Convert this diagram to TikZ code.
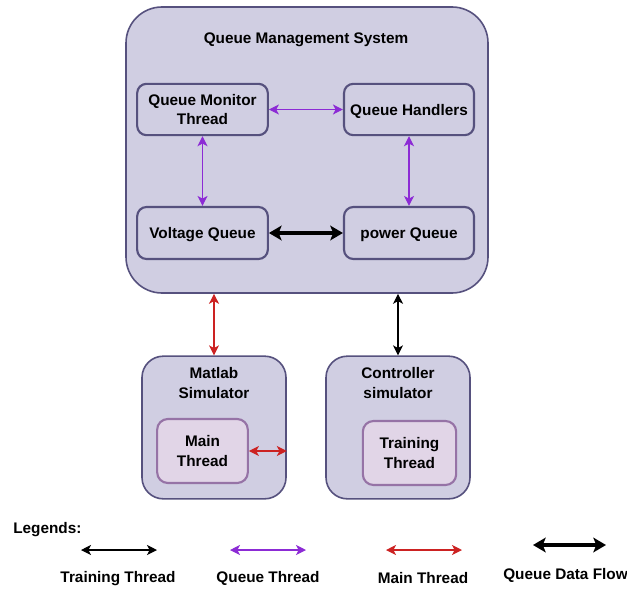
\documentclass[tikz,border=0pt]{standalone}
\usepackage{fontspec}
\setmainfont{Liberation Sans}
\usetikzlibrary{arrows.meta}
\definecolor{boxfill}{HTML}{D0CEE2}
\definecolor{boxline}{HTML}{56517E}
\definecolor{thrfill}{HTML}{E1D5E7}
\definecolor{thrline}{HTML}{9673A6}
\definecolor{qpurple}{HTML}{8C2BD5}
\definecolor{mred}{HTML}{CC2222}
\tikzset{
  x=0.75pt, y=-0.75pt,
  every node/.style={font=\fontsize{11.5}{14.8}\selectfont\bfseries, align=center, inner sep=0pt},
  sysbox/.style={draw=boxline, fill=boxfill, line width=1.2pt},
  qbox/.style={draw=boxline, fill=boxfill, line width=1.6pt, rounded corners=7pt, text depth=0pt},
  thrbox/.style={draw=thrline, fill=thrfill, line width=1.6pt, rounded corners=8pt, text depth=0pt},
  smalltip/.tip={Stealth[length=7.5pt,width=7.5pt,inset=2pt]},
  bigtip/.tip={Stealth[length=9.5pt,width=11pt,inset=2.2pt]},
  qflow/.style={smalltip-smalltip, qpurple, line width=0.9pt},
  mflow/.style={smalltip-smalltip, mred, line width=0.9pt},
  tflow/.style={smalltip-smalltip, black, line width=0.9pt},
  dflow/.style={bigtip-bigtip, black, line width=3pt},
}
\begin{document}
\begin{tikzpicture}
\useasboundingbox (0,0) rectangle (627,588);
\clip (0,0) rectangle (627,588);

% Queue management system
\node[sysbox, rounded corners=27pt, minimum width=271.5pt, minimum height=214.5pt] (qms) at (307,150) {};
\node (qmstitle) at (306,40) {Queue Management System};

\node[qbox, minimum width=98pt, minimum height=38.5pt] (qmt) at (202.5,109.5) {Queue Monitor\\Thread};
\node[qbox, minimum width=97.5pt, minimum height=38.5pt] (qh) at (409,109.5) {Queue Handlers};
\node[qbox, minimum width=98pt, minimum height=39pt] (vq) at (202.5,233) {Voltage Queue};
\node[qbox, minimum width=97.5pt, minimum height=39pt] (pq) at (409,233) {power Queue};

\draw[qflow] (qmt.east) -- (qh.west);
\draw[qflow] (qmt.south) -- (vq.north);
\draw[qflow] (qh.south) -- (pq.north);
\draw[dflow] (vq.east) -- (pq.west);

% Simulators
\node[sysbox, rounded corners=16pt, minimum width=108pt, minimum height=107pt] (matlab) at (214,427.5) {};
\node (matlabtitle) at (214,383) {Matlab\\Simulator};
\node[thrbox, minimum width=68pt, minimum height=48pt] (main) at (202.5,451) {Main\\Thread};
\draw[mflow] (main.east) -- (main.east -| matlab.east);

\node[sysbox, rounded corners=16pt, minimum width=108pt, minimum height=107pt] (ctrl) at (398,427.5) {};
\node (ctrltitle) at (398,383) {Controller\\simulator};
\node[thrbox, minimum width=70pt, minimum height=48pt] (train) at (409.5,453) {Training\\Thread};

\draw[mflow] (matlab.north) -- (matlab.north |- qms.south);
\draw[tflow] (ctrl.north) -- (ctrl.north |- qms.south);

% Legend
\node[anchor=west] (legtitle) at (13,530) {Legends:};
\coordinate (ta) at (81,550);  \coordinate (tb) at (157,550);
\coordinate (qa) at (230,550); \coordinate (qb) at (306,550);
\coordinate (ma) at (386,550); \coordinate (mb) at (462,550);
\coordinate (da) at (533,545); \coordinate (db) at (606,545);
\draw[tflow] (ta) -- (tb);
\draw[qflow] (qa) -- (qb);
\draw[mflow] (ma) -- (mb);
\draw[dflow] (da) -- (db);
\node (tlab) at (118,578.5) {Training Thread};
\node (qlab) at (268,578.5) {Queue Thread};
\node (mlab) at (423,578.5) {Main Thread};
\node (dlab) at (565.5,575) {Queue Data Flow};
\end{tikzpicture}
\end{document}
